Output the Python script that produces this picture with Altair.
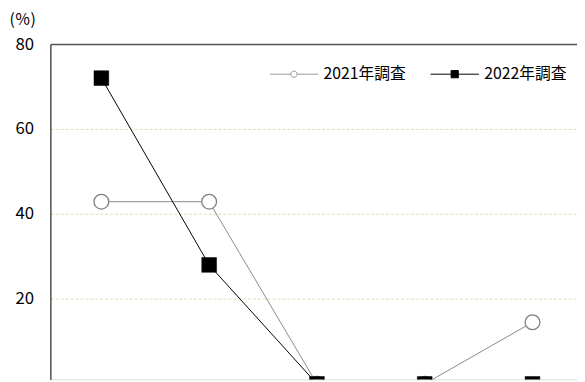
import altair as alt
import pandas as pd

categories = ["A", "B", "C", "D", "E"]
series_names = ["2021年調査", "2022年調査"]
values_2021 = [42.9, 42.9, 0, 0, 14.5]
values_2022 = [72, 28, 0, 0, 0]
y_ticks = [0, 20, 40, 60, 80]

rows = []
for name, vals in zip(series_names, [values_2021, values_2022]):
    for i, (c, v) in enumerate(zip(categories, vals)):
        rows.append({"category": c, "idx": i, "series": name, "value": v})
df = pd.DataFrame(rows)

FONT = "Noto Sans CJK JP"
W, H = 534, 340

x = alt.X("idx:Q", axis=None,
          scale=alt.Scale(domain=[-0.473, 4.413], nice=False, zero=False))
y = alt.Y("value:Q",
          scale=alt.Scale(domain=[1.05, 80], nice=False, zero=False),
          axis=alt.Axis(values=y_ticks, title="(％)", titleAngle=0, titleAlign="left",
                        titleBaseline="middle", titleX=-42, titleY=-24.5,
                        titleFont=FONT, titleFontSize=16, titleFontWeight="normal", titleColor="black",
                        ticks=False, labelPadding=17, labelFont=FONT, labelFontSize=17,
                        labelColor="black", domainColor="black", domainWidth=1,
                        grid=True,
                        gridColor={"condition": {"test": "datum.value === 80", "value": "#555555"}, "value": "#dcdcb8"},
                        gridDash={"condition": {"test": "datum.value === 80", "value": []}, "value": [3, 2]},
                        gridWidth={"condition": {"test": "datum.value === 80", "value": 1.5}, "value": 1}))

base = alt.Chart(df).encode(x=x, y=y)

line21 = base.transform_filter(alt.datum.series == series_names[0]).mark_line(
    color="#8a8a8a", strokeWidth=1, clip=True)
line22 = base.transform_filter(alt.datum.series == series_names[1]).mark_line(
    color="black", strokeWidth=1, clip=True)
pt21 = base.transform_filter(alt.datum.series == series_names[0]).mark_point(
    shape="circle", size=225, filled=True, fill="white", stroke="#7f7f7f", strokeWidth=1.3,
    opacity=1, clip=True)
pt22 = base.transform_filter(alt.datum.series == series_names[1]).mark_point(
    shape="square", size=225, filled=True, fill="black", stroke="black", strokeWidth=0.5,
    opacity=1, clip=True)

path21 = "M-1,0H-0.13M0.13,0H1M-0.13,0A0.13,0.13,0,1,1,0.13,0A0.13,0.13,0,1,1,-0.13,0Z"
path22 = "M-1,0H1M-0.15,-0.15H0.15V0.15H-0.15Z"

leg = alt.Legend(orient="none", legendX=222, legendY=5.5, direction="horizontal", title=None,
                 columnPadding=22, labelOffset=5, symbolSize=2401, symbolStrokeWidth=1,
                 symbolOpacity=1, labelFont=FONT, labelFontSize=16, labelColor="black",
                 padding=0, labelLimit=200)

legend_layer = alt.Chart(df).mark_point(opacity=0, size=2401, filled=True).encode(
    x=x, y=y,
    shape=alt.Shape("series:N", scale=alt.Scale(domain=series_names, range=[path21, path22]), legend=leg),
    fill=alt.Fill("series:N", scale=alt.Scale(domain=series_names, range=["white", "black"]), legend=leg),
    stroke=alt.Stroke("series:N", scale=alt.Scale(domain=series_names, range=["#999999", "black"]), legend=leg),
)

chart = alt.layer(line21, line22, pt21, pt22, legend_layer).properties(
    width=W, height=H,
    autosize=alt.AutoSizeParams(type="none"),
    padding={"left": 43, "top": 34, "right": 0, "bottom": 0},
    background="white",
).configure_view(stroke=None).configure(font=FONT)

chart.save("out.html", embed_options={"renderer": "svg", "actions": False})
